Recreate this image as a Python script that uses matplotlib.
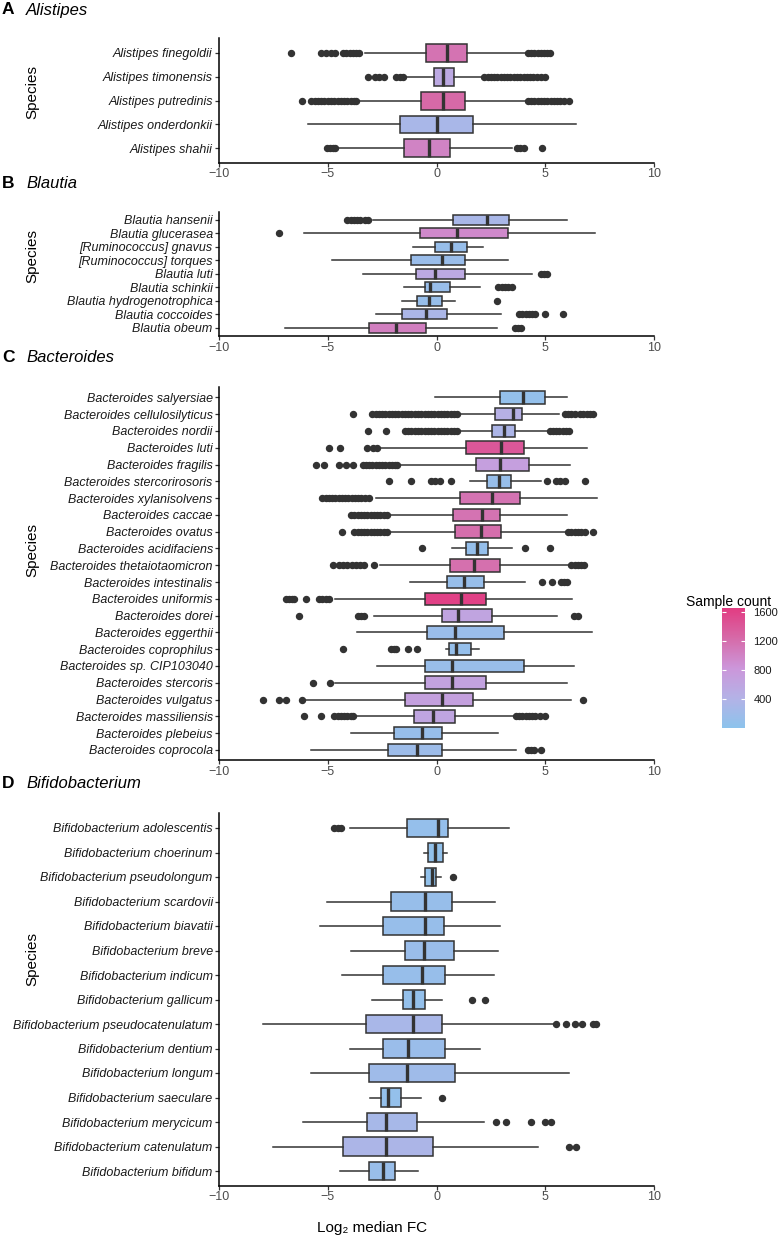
import matplotlib
matplotlib.use('Agg')
import matplotlib.pyplot as plt
from matplotlib.colors import LinearSegmentedColormap, Normalize
from matplotlib.cm import ScalarMappable

plt.rcParams['font.family'] = ['Liberation Sans', 'DejaVu Sans']

W, H = 780, 1237

# ---------------- A: Alistipes ----------------
alis_names = ['Alistipes finegoldii', 'Alistipes timonensis', 'Alistipes putredinis',
              'Alistipes onderdonkii', 'Alistipes shahii']
alis_count = [1150, 550, 1250, 300, 1000]
alis_q1 = [-0.5, -0.1, -0.7, -1.7, -1.5]
alis_med = [0.5, 0.3, 0.3, 0.0, -0.35]
alis_q3 = [1.4, 0.8, 1.3, 1.7, 0.6]
alis_lo = [-3.3, -1.4, -3.6, -5.9, -4.55]
alis_hi = [4.1, 2.1, 4.15, 6.4, 3.45]
alis_fliers = [
    [-6.7, -5.3, -5.1, -4.85, -4.65, -4.3, -4.15, -4.0, -3.85, -3.7, -3.55,
     4.2, 4.35, 4.5, 4.65, 4.8, 4.95, 5.1, 5.2],
    [-3.15, -2.85, -2.65, -2.4, -1.85, -1.7, -1.55,
     2.2, 2.35, 2.5, 2.65, 2.8, 2.95, 3.1, 3.25, 3.4, 3.55, 3.7, 3.85, 4.0, 4.15,
     4.3, 4.45, 4.6, 4.8, 5.0],
    [-6.2, -5.75, -5.6, -5.45, -5.3, -5.15, -5.0, -4.85, -4.7, -4.55, -4.4, -4.25,
     -4.1, -3.95, -3.8, -3.68,
     4.2, 4.35, 4.5, 4.65, 4.8, 4.95, 5.1, 5.25, 5.4, 5.55, 5.7, 5.85, 6.1],
    [],
    [-5.05, -4.9, -4.75, -4.65, 3.7, 3.85, 4.0, 4.85],
]

# ---------------- B: Blautia ----------------
blau_names = ['Blautia hansenii', 'Blautia glucerasea', '[Ruminococcus] gnavus',
              '[Ruminococcus] torques', 'Blautia luti', 'Blautia schinkii',
              'Blautia hydrogenotrophica', 'Blautia coccoides', 'Blautia obeum']
blau_count = [300, 950, 120, 150, 550, 130, 120, 320, 1050]
blau_q1 = [0.75, -0.75, -0.05, -1.15, -0.95, -0.55, -0.9, -1.6, -3.1]
blau_med = [2.3, 0.95, 0.65, 0.25, -0.05, -0.3, -0.35, -0.5, -1.85]
blau_q3 = [3.35, 3.3, 1.4, 1.3, 1.3, 0.6, 0.25, 0.5, -0.5]
blau_lo = [-2.9, -6.1, -1.1, -4.8, -3.4, -1.5, -1.6, -2.8, -6.97]
blau_hi = [6.0, 7.3, 2.15, 3.3, 4.4, 2.0, 0.85, 2.95, 2.8]
blau_fliers = [
    [-4.1, -3.95, -3.8, -3.65, -3.5, -3.3, -3.15],
    [-7.25],
    [],
    [],
    [4.8, 4.95, 5.1],
    [2.85, 3.0, 3.15, 3.3, 3.45],
    [2.8],
    [3.8, 3.95, 4.1, 4.25, 4.4, 4.55, 5.0, 5.8],
    [3.6, 3.75, 3.9],
]

# ---------------- C: Bacteroides ----------------
bact_names = ['Bacteroides salyersiae', 'Bacteroides cellulosilyticus', 'Bacteroides nordii',
              'Bacteroides luti', 'Bacteroides fragilis', 'Bacteroides stercorirosoris',
              'Bacteroides xylanisolvens', 'Bacteroides caccae', 'Bacteroides ovatus',
              'Bacteroides acidifaciens', 'Bacteroides thetaiotaomicron',
              'Bacteroides intestinalis', 'Bacteroides uniformis', 'Bacteroides dorei',
              'Bacteroides eggerthii', 'Bacteroides coprophilus', 'Bacteroides sp. CIP103040',
              'Bacteroides stercoris', 'Bacteroides vulgatus', 'Bacteroides massiliensis',
              'Bacteroides plebeius', 'Bacteroides coprocola']
bact_count = [80, 450, 330, 1400, 700, 120, 1150, 1150, 1200, 100, 1180, 120, 1600,
              620, 150, 100, 130, 650, 680, 600, 120, 180]
bact_q1 = [2.9, 2.7, 2.55, 1.35, 1.83, 2.33, 1.09, 0.78, 0.83, 1.35, 0.63, 0.49, -0.52,
           0.24, -0.43, 0.57, -0.52, -0.54, -1.47, -1.05, -1.97, -2.21]
bact_med = [3.98, 3.5, 3.1, 2.95, 2.93, 2.87, 2.57, 2.07, 2.03, 1.86, 1.74, 1.27, 1.12,
            0.98, 0.86, 0.88, 0.72, 0.69, 0.26, -0.17, -0.68, -0.89]
bact_q3 = [5.0, 3.95, 3.6, 4.0, 4.25, 3.44, 3.82, 2.9, 2.98, 2.36, 2.9, 2.17, 2.26,
           2.55, 3.12, 1.57, 4.0, 2.29, 1.67, 0.84, 0.26, 0.26]
bact_lo = [-0.05, 0.95, 1.05, -2.63, -1.74, 1.55, -2.78, -2.2, -2.2, 0.7, -2.58, -1.24,
           -4.67, -2.86, -3.67, 0.45, -2.75, -4.65, -6.1, -3.82, -3.93, -5.75]
bact_hi = [5.98, 5.65, 5.13, 6.9, 6.16, 4.82, 7.39, 5.98, 6.0, 3.47, 6.2, 4.07, 6.23,
           5.54, 7.17, 1.94, 6.31, 5.98, 6.2, 3.59, 2.83, 3.64]
bact_fliers = [
    [],
    [-3.85, -2.95, -2.8, -2.65, -2.5, -2.35, -2.2, -2.05, -1.9, -1.75, -1.6, -1.45,
     -1.3, -1.15, -1.0, -0.85, -0.7, -0.55, -0.4, -0.25, -0.1, 0.05, 0.2, 0.35, 0.5,
     0.65, 0.8, 0.95, 5.9, 6.05, 6.2, 6.35, 6.6, 6.75, 6.9, 7.05, 7.2],
    [-3.16, -2.3, -1.43, -1.3, -1.15, -1.0, -0.85, -0.7, -0.55, -0.4, -0.25, -0.1,
     0.05, 0.2, 0.35, 0.5, 0.65, 0.8, 0.95, 5.2, 5.35, 5.5, 5.65, 5.8, 5.95, 6.1],
    [-4.93, -4.44, -3.18, -2.9, -2.72],
    [-5.55, -5.16, -4.5, -4.16, -3.82, -3.4, -3.25, -3.1, -2.95, -2.8, -2.65, -2.5,
     -2.35, -2.2, -2.05, -1.9, -1.8],
    [-2.17, -1.17, -0.25, -0.05, 0.14, 0.68, 5.1, 5.5, 5.7, 5.9, 6.85],
    [-5.27, -5.1, -4.95, -4.8, -4.65, -4.5, -4.35, -4.2, -4.05, -3.9, -3.75, -3.6,
     -3.45, -3.3, -3.1],
    [-3.93, -3.78, -3.63, -3.48, -3.33, -3.18, -3.03, -2.88, -2.73, -2.58, -2.43, -2.26],
    [-4.36, -3.78, -3.63, -3.48, -3.33, -3.18, -3.03, -2.88, -2.73, -2.58, -2.43, -2.26,
     6.05, 6.2, 6.35, 6.5, 6.65, 6.82, 7.2],
    [-0.68, 4.07, 5.24],
    [-4.78, -4.47, -4.3, -4.1, -3.9, -3.7, -3.5, -3.32, -2.86, 6.2, 6.35, 6.5, 6.65, 6.8],
    [4.85, 5.31, 5.74, 5.88, 6.0],
    [-6.93, -6.8, -6.65, -6.54, -6.0, -5.39, -5.25, -5.1, -4.93],
    [-6.31, -3.63, -3.48, -3.32, 6.33, 6.51],
    [],
    [-4.32, -2.09, -1.95, -1.86, -1.29, -0.91],
    [],
    [-5.7, -4.88],
    [-7.96, -7.23, -6.93, -6.2, 6.74],
    [-6.11, -5.31, -4.7, -4.55, -4.4, -4.25, -4.1, -3.95, -3.85,
     3.65, 3.8, 3.95, 4.1, 4.25, 4.4, 4.55, 4.75, 4.98],
    [],
    [4.2, 4.35, 4.5, 4.82],
]

# ---------------- D: Bifidobacterium ----------------
bifi_names = ['Bifidobacterium adolescentis', 'Bifidobacterium choerinum',
              'Bifidobacterium pseudolongum', 'Bifidobacterium scardovii',
              'Bifidobacterium biavatii', 'Bifidobacterium breve', 'Bifidobacterium indicum',
              'Bifidobacterium gallicum', 'Bifidobacterium pseudocatenulatum',
              'Bifidobacterium dentium', 'Bifidobacterium longum', 'Bifidobacterium saeculare',
              'Bifidobacterium merycicum', 'Bifidobacterium catenulatum',
              'Bifidobacterium bifidum']
bifi_count = [100, 60, 60, 120, 120, 150, 120, 80, 300, 150, 200, 80, 280, 330, 130]
bifi_q1 = [-1.35, -0.4, -0.54, -2.09, -2.47, -1.47, -2.47, -1.52, -3.24, -2.47, -3.12,
           -2.57, -3.19, -4.32, -3.09]
bifi_med = [0.06, -0.05, -0.2, -0.51, -0.51, -0.58, -0.68, -1.06, -1.09, -1.3, -1.37,
            -2.23, -2.3, -2.32, -2.44]
bifi_q3 = [0.54, 0.29, -0.02, 0.7, 0.34, 0.8, 0.41, -0.51, 0.26, 0.41, 0.84, -1.65,
           -0.88, -0.17, -1.92]
bifi_lo = [-4.0, -0.59, -0.71, -5.04, -5.35, -3.93, -4.36, -2.98, -8.0, -4.0, -5.75,
           -3.04, -6.13, -7.54, -4.44]
bifi_hi = [3.32, 0.47, 0.22, 2.7, 2.9, 2.81, 2.63, 0.24, 5.4, 2.01, 6.07, -0.69, 2.17,
           4.65, -0.84]
bifi_fliers = [
    [-4.7, -4.55, -4.4],
    [],
    [0.75],
    [], [], [], [],
    [1.64, 2.21],
    [5.5, 5.97, 6.37, 6.68, 7.2, 7.35],
    [], [],
    [0.26],
    [2.75, 3.21, 4.33, 4.98, 5.25],
    [6.1, 6.4],
    [],
]

panels = [
    ('A', 'Alistipes', alis_names, alis_count, alis_q1, alis_med, alis_q3, alis_lo, alis_hi, alis_fliers),
    ('B', 'Blautia', blau_names, blau_count, blau_q1, blau_med, blau_q3, blau_lo, blau_hi, blau_fliers),
    ('C', 'Bacteroides', bact_names, bact_count, bact_q1, bact_med, bact_q3, bact_lo, bact_hi, bact_fliers),
    ('D', 'Bifidobacterium', bifi_names, bifi_count, bifi_q1, bifi_med, bifi_q3, bifi_lo, bifi_hi, bifi_fliers),
]

# pixel boxes (left, top, right, bottom), title y, ylabel y
boxes = [(219, 38.5, 654, 162.7), (219, 211.7, 654, 336),
         (219, 387.3, 654, 760), (219, 813.3, 654, 1185.7)]
title_y = [10, 184, 358, 784]
species_y = [92, 256, 550, 959]

cmap = LinearSegmentedColormap.from_list(
    'cnt', ['#8cc3ec', '#b4b2e6', '#cc96da', '#d66aa8', '#e23c82'])
norm = Normalize(vmin=0, vmax=1650)

dark = '#333333'
fig = plt.figure(figsize=(W / 100, H / 100), dpi=100)

for (letter, genus, names, counts, q1, med, q3, lo, hi, fl), (x0, y0, x1, y1), ty, sy in zip(
        panels, boxes, title_y, species_y):
    ax = fig.add_axes([x0 / W, 1 - y1 / H, (x1 - x0) / W, (y1 - y0) / H])
    n = len(names)
    stats = []
    for i in range(n):
        stats.append(dict(q1=q1[i], med=med[i], q3=q3[i], whislo=lo[i], whishi=hi[i],
                          fliers=fl[i]))
    bp = ax.bxp(stats, positions=list(range(n)), widths=0.75, orientation='horizontal',
                patch_artist=True, showcaps=False,
                boxprops=dict(edgecolor=dark, linewidth=1.1),
                whiskerprops=dict(color=dark, linewidth=1.1),
                medianprops=dict(color=dark, linewidth=2.4),
                flierprops=dict(marker='o', markerfacecolor=dark, markeredgecolor=dark,
                                markersize=4.3, linestyle='none'))
    for patch, c in zip(bp['boxes'], counts):
        patch.set_facecolor(cmap(norm(c)))
    ax.set_xlim(-10, 10)
    ax.set_ylim(n - 0.4, -0.6)
    ax.set_yticks(list(range(n)))
    ax.set_yticklabels(names, fontsize=9, style='italic', color='#1a1a1a')
    ax.set_xticks([-10, -5, 0, 5, 10])
    ax.tick_params(axis='x', labelsize=9, labelcolor='#4d4d4d', color=dark, length=3,
                   width=0.9, pad=1)
    ax.tick_params(axis='y', color=dark, length=3, width=0.9, pad=1.5)
    for s in ['top', 'right']:
        ax.spines[s].set_visible(False)
    for s in ['left', 'bottom']:
        ax.spines[s].set_linewidth(1.1)
        ax.spines[s].set_color('black')
    fig.text(2 / W, 1 - ty / H, letter, fontsize=12.5, fontweight='bold', va='center')
    fig.text(26 / W, 1 - ty / H, genus, fontsize=12, style='italic', va='center')
    fig.text(32 / W, 1 - sy / H, 'Species', fontsize=11, rotation=90, va='center',
             ha='center')

fig.text(317 / W, 1 - 1228 / H, 'Log\u2082 median FC', fontsize=11, va='center', ha='left')

# colourbar
cax = fig.add_axes([722 / W, 1 - 728 / H, 23 / W, 120 / H])
sm = ScalarMappable(norm=norm, cmap=cmap)
cb = fig.colorbar(sm, cax=cax, ticks=[400, 800, 1200, 1600])
cb.outline.set_visible(False)
cax.yaxis.set_ticks_position('both')
cax.tick_params(direction='in', color='white', length=3, width=0.8, labelsize=8,
                labelcolor='#1a1a1a', pad=6, labelright=True, labelleft=False)
fig.text(686 / W, 1 - 602 / H, 'Sample count', fontsize=10, va='center', ha='left')

fig.savefig('out.png', dpi=100)
